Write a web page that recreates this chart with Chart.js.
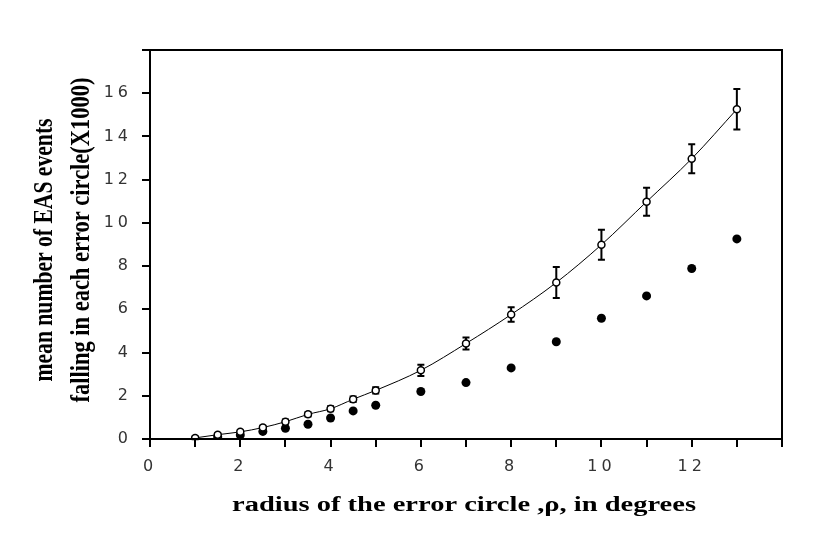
<!DOCTYPE html>
<html>
<head>
<meta charset="utf-8">
<script src="https://cdn.jsdelivr.net/npm/chart.js@4"></script>
<style>
  html, body { margin: 0; padding: 0; background: #fff; }
  #wrap { width: 817px; height: 545px; }
</style>
</head>
<body>
<div id="wrap"><canvas id="chart" width="817" height="545"></canvas></div>
<script>
// radius of the error circle (degrees)
const openRadius = [1, 1.5, 2, 2.5, 3, 3.5, 4, 4.5, 5, 6, 7, 8, 9, 10, 11, 12, 13];
// mean number of EAS events (x1000), open circles with error bars
const openMean = [0.05, 0.2, 0.33, 0.53, 0.8, 1.14, 1.4, 1.84, 2.25, 3.18, 4.42, 5.76, 7.24, 8.99, 10.98, 12.97, 15.26];
const openErr = [0.06, 0.06, 0.07, 0.08, 0.1, 0.1, 0.12, 0.13, 0.15, 0.26, 0.28, 0.34, 0.72, 0.69, 0.65, 0.67, 0.94];
// filled circles
const filledRadius = [1.5, 2, 2.5, 3, 3.5, 4, 4.5, 5, 6, 7, 8, 9, 10, 11, 12, 13];
const filledMean = [0.1, 0.18, 0.35, 0.5, 0.68, 0.97, 1.3, 1.56, 2.2, 2.61, 3.29, 4.5, 5.59, 6.62, 7.89, 9.26];

const xTickLabels = [0, 2, 4, 6, 8, 10, 12];
const yTickLabels = [0, 2, 4, 6, 8, 10, 12, 14, 16];

const xTitle = 'radius of the error circle ,\u03C1, in degrees';
const yTitle1 = 'mean number of EAS events';
const yTitle2 = 'falling in each error circle(X1000)';

const toPoints = (xs, ys) => xs.map((x, i) => ({ x, y: ys[i] }));

const errorBars = {
  id: 'errorBars',
  beforeDatasetsDraw(chart) {
    const { ctx, scales: { x, y } } = chart;
    ctx.save();
    ctx.strokeStyle = '#000';
    ctx.lineWidth = 2;
    openRadius.forEach((r, i) => {
      const px = x.getPixelForValue(r);
      const top = y.getPixelForValue(openMean[i] + openErr[i]);
      const bot = y.getPixelForValue(openMean[i] - openErr[i]);
      ctx.beginPath();
      ctx.moveTo(px, top); ctx.lineTo(px, bot);
      ctx.moveTo(px - 3.5, top); ctx.lineTo(px + 3.5, top);
      ctx.moveTo(px - 3.5, bot); ctx.lineTo(px + 3.5, bot);
      ctx.stroke();
    });
    ctx.restore();
  }
};

// wide-spaced digits like the original
const tickSpacing = {
  id: 'tickSpacing',
  beforeDraw(chart) { chart.ctx.letterSpacing = '4px'; }
};

function stretchedText(ctx, text, tx, ty, rot, width) {
  ctx.save();
  ctx.translate(tx, ty);
  ctx.rotate(rot);
  const w = ctx.measureText(text).width;
  ctx.scale(width / w, 1);
  ctx.fillText(text, 0, 0);
  ctx.restore();
}

const frameAndTitles = {
  id: 'frameAndTitles',
  afterDraw(chart) {
    const { ctx, chartArea: a } = chart;
    ctx.save();
    ctx.letterSpacing = '0px';
    ctx.strokeStyle = '#000';
    ctx.lineWidth = 2;
    ctx.strokeRect(a.left, a.top, a.right - a.left, a.bottom - a.top);

    ctx.fillStyle = '#000';
    ctx.textAlign = 'center';
    ctx.textBaseline = 'alphabetic';
    ctx.font = 'bold 20px "Liberation Serif"';
    stretchedText(ctx, xTitle, 464, 511, 0, 464);

    ctx.font = 'bold 28px "Liberation Serif"';
    stretchedText(ctx, yTitle1, 52, 250, -Math.PI / 2, 263);
    stretchedText(ctx, yTitle2, 89, 240, -Math.PI / 2, 325);
    ctx.restore();
  }
};

new Chart(document.getElementById('chart'), {
  type: 'scatter',
  data: {
    datasets: [
      {
        label: 'open',
        data: toPoints(openRadius, openMean),
        showLine: true,
        cubicInterpolationMode: 'monotone',
        borderColor: '#000',
        borderWidth: 1,
        pointRadius: 3.5,
        pointBorderWidth: 1.5,
        pointBackgroundColor: '#fff',
        pointBorderColor: '#000',
      },
      {
        label: 'filled',
        data: toPoints(filledRadius, filledMean),
        showLine: false,
        pointRadius: 4.5,
        pointBorderWidth: 0,
        pointBackgroundColor: '#000',
        pointBorderColor: '#000',
      },
    ],
  },
  options: {
    responsive: false,
    animation: false,
    layout: { padding: { top: 50, right: 35, left: 0, bottom: 0 } },
    plugins: { legend: { display: false }, tooltip: { enabled: false } },
    scales: {
      x: {
        type: 'linear',
        min: 0, max: 14,
        afterFit: (s) => { s.height = 106; },
        ticks: {
          stepSize: 1,
          autoSkip: false,
          maxRotation: 0,
          padding: 10,
          color: '#333',
          font: { family: '"DejaVu Sans"', size: 16 },
          callback: (v) => (xTickLabels.includes(v) ? String(v) : ''),
        },
        grid: { drawOnChartArea: false, drawTicks: true, tickLength: 8, color: '#000', lineWidth: 2 },
        border: { color: '#000', width: 2 },
      },
      y: {
        min: 0, max: 18,
        afterFit: (s) => { s.width = 150; },
        ticks: {
          stepSize: 2,
          padding: 10,
          color: '#333',
          font: { family: '"DejaVu Sans"', size: 16 },
          callback: (v) => (yTickLabels.includes(v) ? String(v) : ''),
        },
        grid: { drawOnChartArea: false, drawTicks: true, tickLength: 8, color: '#000', lineWidth: 2 },
        border: { color: '#000', width: 2 },
      },
    },
  },
  plugins: [tickSpacing, errorBars, frameAndTitles],
});
</script>
</body>
</html>
